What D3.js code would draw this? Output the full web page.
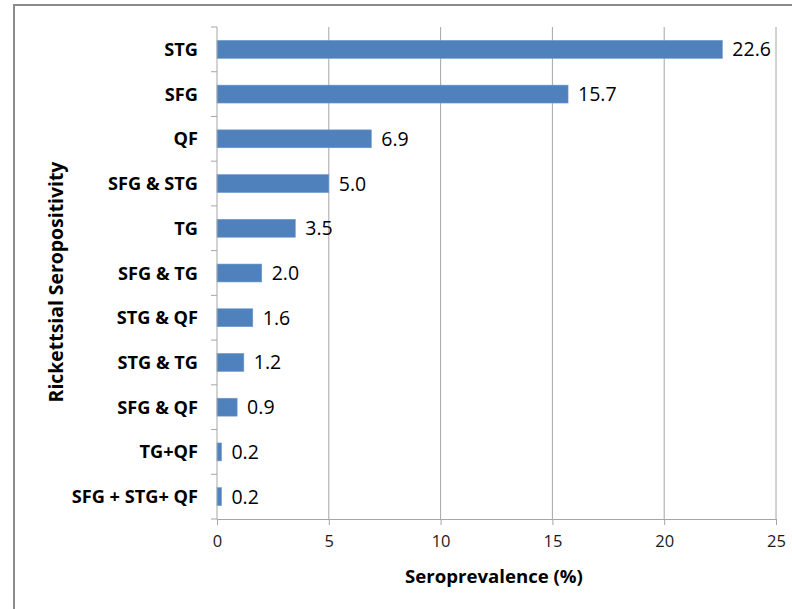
<!DOCTYPE html>
<html><head><meta charset="utf-8">
<script src="https://cdn.jsdelivr.net/npm/d3@7"></script>
<style>html,body{margin:0;padding:0;background:#fff;}svg{display:block;}</style>
</head><body>
<script>
const categories = ["STG","SFG","QF","SFG & STG","TG","SFG & TG","STG & QF","STG & TG","SFG & QF","TG+QF","SFG + STG+ QF"];
const values = [22.6,15.7,6.9,5.0,3.5,2.0,1.6,1.2,0.9,0.2,0.2];
const xTicks = [0,5,10,15,20,25];
const xTitle = "Seroprevalence (%)";
const yTitle = "Rickettsial Seropositivity";

(function () {
const W = 792, H = 609;
const svg = d3.select("body").append("svg").attr("width", W).attr("height", H);
svg.append("rect").attr("width", W).attr("height", H).attr("fill", "#fff");
// outer frame (cropped at right/bottom)
svg.append("rect").attr("x", 14).attr("y", 5).attr("width", 790).attr("height", 620)
  .attr("fill", "none").attr("stroke", "#8c8c8c").attr("stroke-width", 2);

const pL = 217, pR = 776, pT = 27, pB = 519;
const x = d3.scaleLinear().domain([0, 25]).range([pL, pR]);
const y = d3.scaleBand().domain(categories).range([pT, pB]).paddingInner(0.6).paddingOuter(0.3);
const yb = d3.scaleBand().domain(categories).range([pT, pB]);

const grid = "#a6a6a6";
svg.append("g").selectAll("line").data(xTicks.slice(1)).join("line")
  .attr("x1", d => x(d)).attr("x2", d => x(d)).attr("y1", pT).attr("y2", pB)
  .attr("stroke", grid).attr("stroke-width", 1);

svg.append("g").selectAll("rect").data(values).join("rect")
  .attr("x", x(0)).attr("y", (d, i) => y(categories[i]))
  .attr("width", d => x(d) - x(0)).attr("height", y.bandwidth())
  .attr("fill", "#4f81bd").attr("stroke", "#6d97cc").attr("stroke-width", 0.6);

const xAxis = svg.append("g").attr("transform", `translate(0,${pB})`)
  .call(d3.axisBottom(x).tickValues(xTicks).tickSize(6).tickPadding(10));
xAxis.select(".domain").attr("stroke", grid);
xAxis.selectAll(".tick line").attr("stroke", grid);
xAxis.selectAll("text").attr("font-family", "Open Sans").attr("font-size", 16.5).attr("fill", "#1a1a1a");

const yAxisG = svg.append("g");
yAxisG.append("line").attr("x1", pL).attr("x2", pL).attr("y1", pT).attr("y2", pB).attr("stroke", grid);
const bounds = categories.map(c => yb(c)).concat([pB]);
yAxisG.selectAll("line.t").data(bounds).join("line").attr("class", "t")
  .attr("x1", pL - 6).attr("x2", pL).attr("y1", d => d).attr("y2", d => d).attr("stroke", grid);
yAxisG.selectAll("text").data(categories).join("text")
  .attr("x", 198).attr("y", d => yb(d) + yb.bandwidth() / 2)
  .attr("dy", "0.36em").attr("text-anchor", "end")
  .attr("font-family", "Open Sans").attr("font-weight", "bold").attr("font-size", 18.2).attr("fill", "#000")
  .text(d => d);

svg.append("g").selectAll("text").data(values).join("text")
  .attr("x", d => x(d) + 10).attr("y", (d, i) => y(categories[i]) + y.bandwidth() / 2)
  .attr("dy", "0.36em").attr("font-family", "Open Sans").attr("font-size", 19.5).attr("fill", "#000")
  .text(d => d.toFixed(1));

svg.append("text").attr("x", 494).attr("y", 583).attr("text-anchor", "middle")
  .attr("font-family", "Open Sans").attr("font-weight", "bold").attr("font-size", 18.6).attr("fill", "#000")
  .text(xTitle);
svg.append("text").attr("transform", "translate(63,282) rotate(-90)").attr("text-anchor", "middle")
  .attr("font-family", "Open Sans").attr("font-weight", "bold").attr("font-size", 19.4).attr("fill", "#000")
  .text(yTitle);
})();
</script>
</body></html>
